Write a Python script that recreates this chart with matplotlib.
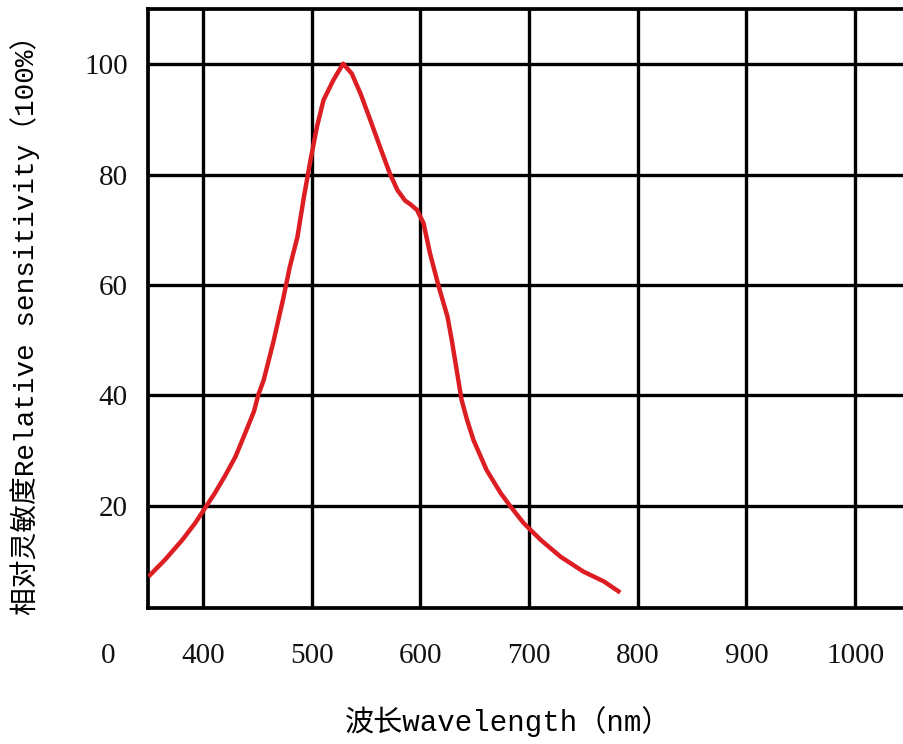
import matplotlib
matplotlib.use("Agg")
import matplotlib.pyplot as plt

wavelength = [350, 365, 381, 393, 402, 411, 420, 430, 439, 447, 451, 456,
              465, 474, 480, 487, 493, 499, 505, 511, 520, 529, 537, 545, 554,
              563, 572, 579, 586, 591, 597, 603, 609, 617, 625, 629, 634,
              638, 643, 649, 661, 674, 683, 695, 711, 729, 750, 769, 784]
sensitivity = [7.2, 10.2, 13.8, 16.9, 19.6, 22.3, 25.3, 28.9, 33.2, 37.1,
               40.1, 42.8, 49.8, 57.6, 63.3, 68.7, 76.0, 82.6, 88.7, 93.5, 97.1,
               100.1, 98.3, 94.7, 89.9, 85.0, 80.2, 77.2, 75.3, 74.6, 73.6,
               71.2, 65.7, 59.7, 54.3, 50.0, 44.0, 39.2, 35.6, 31.9, 26.5,
               22.3, 19.9, 16.9, 13.8, 10.8, 8.1, 6.3, 4.3]

x_ticks = [400, 500, 600, 700, 800, 900, 1000]
x_tick_labels = ["400", "500", "600", "700", "800", "900", "1000"]
y_ticks = [20, 40, 60, 80, 100]
y_tick_labels = ["20", "40", "60", "80", "100"]

fig = plt.figure(figsize=(9.04, 7.44), dpi=100)
ax = fig.add_axes([148.5 / 904, 136 / 744, 1 - 148.5 / 904, (608 - 9) / 744])

ax.set_xlim(350, 1045)
ax.set_ylim(1.5, 110)

ax.set_xticks(x_ticks)
ax.set_xticklabels(x_tick_labels)
ax.set_yticks(y_ticks)
ax.set_yticklabels(y_tick_labels)

serif = "Liberation Serif"
tick_fs = 21
for lab in ax.get_xticklabels() + ax.get_yticklabels():
    lab.set_fontfamily(serif)
    lab.set_fontsize(tick_fs)
    lab.set_color("#111111")
ax.tick_params(axis="x", length=0, pad=25)
ax.tick_params(axis="y", length=0, pad=15)

ax.grid(True, color="black", linewidth=2.4)
ax.set_axisbelow(True)
for side in ["left", "bottom", "top"]:
    ax.spines[side].set_linewidth(2.7)
    ax.spines[side].set_color("black")
ax.spines["right"].set_visible(False)

ax.plot(wavelength, sensitivity, color="#dc1e23", linewidth=3.2,
        solid_capstyle="butt", solid_joinstyle="round", zorder=3)

# "0" label at the lower-left corner, level with the x tick labels
fig.canvas.draw()
ref = ax.get_xticklabels()[0].get_window_extent()
fig.text(108 / 904, ((ref.y0 + ref.y1) / 2) / 744, "0", fontfamily=serif,
         fontsize=tick_fs, color="#111111", ha="center", va="center")

mixed = ["Liberation Mono", "Noto Sans CJK SC"]
fig.text(25 / 904, 1 - 318 / 744, "相对灵敏度Relative sensitivity（100%）",
         family=mixed, fontsize=20, rotation=90, ha="center", va="center")
fig.text(508 / 904, 1 - 722 / 744, "波长wavelength（nm）",
         family=mixed, fontsize=21, ha="center", va="center")

fig.savefig("out.png", dpi=100)
